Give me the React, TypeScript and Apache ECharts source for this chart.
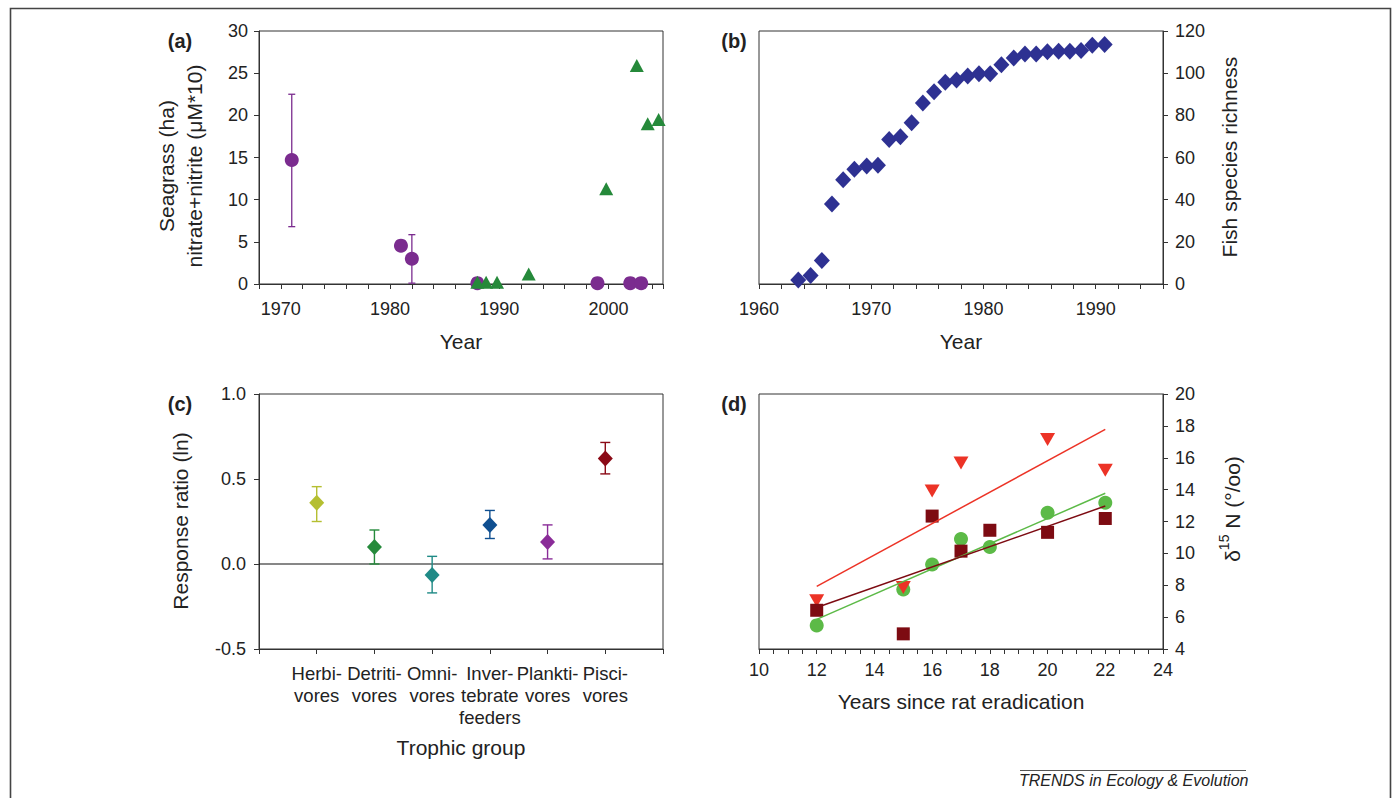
import React, { useEffect, useRef } from 'react';
import * as echarts from 'echarts';

const FONT = '"Liberation Sans", Arial, Helvetica, sans-serif';

// ---------- Panel (a) ----------
const seagrassYears = [1971, 1981, 1982, 1988, 1999, 2002, 2003];
const seagrassValues = [14.7, 4.55, 3.0, 0.1, 0.1, 0.1, 0.1];
const seagrassErrYears = [1971, 1981, 1982];
const seagrassErrLow = [6.8, 4.0, 0.1];
const seagrassErrHigh = [22.5, 5.1, 5.85];
const nitrateYears = [1988, 1988.8, 1989.8, 1992.7, 1999.8, 2002.6, 2003.6, 2004.6];
const nitrateValues = [0.2, 0.2, 0.2, 1.2, 11.3, 25.9, 19.0, 19.5];

// ---------- Panel (b) ----------
const richYears = [
  1963.5, 1964.6, 1965.6, 1966.5, 1967.5, 1968.5, 1969.6, 1970.6, 1971.6, 1972.6,
  1973.6, 1974.6, 1975.6, 1976.6, 1977.6, 1978.6, 1979.6, 1980.6, 1981.6, 1982.7,
  1983.7, 1984.7, 1985.7, 1986.7, 1987.7, 1988.7, 1989.7, 1990.8,
];
const richness = [
  1.9, 4.0, 11.2, 37.9, 49.4, 54.4, 56.0, 56.3, 68.5, 69.9,
  76.5, 85.9, 91.2, 95.7, 96.8, 98.7, 99.7, 99.7, 104.0, 107.2,
  109.1, 109.1, 110.1, 110.4, 110.4, 110.7, 113.3, 113.6,
];

// ---------- Panel (c) ----------
const groups = ['Herbi-\nvores', 'Detriti-\nvores', 'Omni-\nvores', 'Inver-\ntebrate\nfeeders', 'Plankti-\nvores', 'Pisci-\nvores'];
const response = [0.36, 0.10, -0.065, 0.23, 0.13, 0.62];
const responseLow = [0.25, 0.0, -0.17, 0.15, 0.03, 0.53];
const responseHigh = [0.455, 0.20, 0.045, 0.315, 0.23, 0.715];
const groupColors = ['#b5bf31', '#258a3b', '#1f8a86', '#0f4f90', '#8a2c98', '#8b0a16'];

// ---------- Panel (d) ----------
const ratX = [12, 15, 16, 17, 18, 20, 22];
const greenCircles = [5.48, 7.74, 9.30, 10.90, 10.40, 12.55, 13.18];
const darkSquares = [6.43, 4.95, 12.34, 10.14, 11.45, 11.32, 12.19];
const triX = [12, 15, 16, 17, 20, 22];
const redTriangles = [7.02, 7.86, 13.92, 15.67, 17.15, 15.21];
const trendX = [12, 22];
const redTrend = [7.93, 17.78];
const greenTrend = [5.86, 13.77];
const darkTrend = [6.60, 12.97];

const PURPLE = '#7b2c8f';
const GREEN_A = '#25893a';
const NAVY = '#2e3192';
const RED = '#ec3326';
const DARK_RED = '#7d0b12';
const GREEN_D = '#5cba47';
const INK = '#222';

function errorBarRender(colors: string[] | string, cap: number, lw: number) {
  return (params: any, api: any) => {
    const x = api.value(0);
    const lo = api.value(1);
    const hi = api.value(2);
    const a = api.coord([x, lo]);
    const b = api.coord([x, hi]);
    const color = Array.isArray(colors) ? colors[params.dataIndex] : colors;
    const style = { stroke: color, lineWidth: lw, fill: 'none' };
    const h = cap / 2;
    return {
      type: 'group',
      children: [
        { type: 'line', shape: { x1: a[0], y1: a[1], x2: b[0], y2: b[1] }, style },
        { type: 'line', shape: { x1: a[0] - h, y1: a[1], x2: a[0] + h, y2: a[1] }, style },
        { type: 'line', shape: { x1: b[0] - h, y1: b[1], x2: b[0] + h, y2: b[1] }, style },
      ],
    };
  };
}

const axisBase = (extra: any) => ({
  type: 'value',
  axisLine: { show: true, onZero: false, lineStyle: { color: '#333', width: 1 } },
  axisTick: { show: true, inside: false, length: 5, lineStyle: { color: '#333', width: 1 } },
  splitLine: { show: false },
  ...extra,
  axisLabel: { color: INK, fontFamily: FONT, fontSize: 18, ...(extra.axisLabel || {}) },
});

const gridBase = { show: true, borderColor: '#333', borderWidth: 1, backgroundColor: 'transparent', containLabel: false };

const txt = (text: string, x: number, y: number, opts: any = {}) => ({
  type: 'text',
  x,
  y,
  rotation: opts.rotation || 0,
  style: {
    text,
    fill: INK,
    font: `${opts.weight || 'normal'} ${opts.size || 21}px ${FONT}`,
    textAlign: opts.align || 'center',
    textVerticalAlign: 'middle',
    ...(opts.style || {}),
  },
});

function buildOption(): any {
  return {
    animation: false,
    backgroundColor: '#fff',
    grid: [
      { ...gridBase, left: 259, top: 31, width: 404, height: 253 },
      { ...gridBase, left: 759, top: 31, width: 404, height: 253 },
      { ...gridBase, left: 259, top: 394, width: 404, height: 255 },
      { ...gridBase, left: 759, top: 394, width: 404, height: 255 },
    ],
    xAxis: [
      axisBase({
        gridIndex: 0, min: 1968, max: 2005, interval: 2,
        axisLabel: { margin: 16, formatter: (v: number) => (v % 10 === 0 ? String(v) : '') },
      }),
      axisBase({
        gridIndex: 1, min: 1960, max: 1996, interval: 2,
        axisLabel: { margin: 16, formatter: (v: number) => (v % 10 === 0 ? String(v) : '') },
      }),
      axisBase({
        gridIndex: 2, min: 0, max: 7, interval: 1,
        axisLabel: {
          margin: 13, fontSize: 18.5, lineHeight: 22, align: 'center',
          formatter: (v: number) => (v >= 1 && v <= 6 ? groups[v - 1] : ''),
        },
      }),
      axisBase({
        gridIndex: 3, min: 10, max: 24, interval: 0.5,
        axisLabel: { margin: 12, formatter: (v: number) => (Math.abs(v % 2) < 1e-9 ? String(v) : '') },
      }),
    ],
    yAxis: [
      axisBase({ gridIndex: 0, min: 0, max: 30, interval: 5, axisLabel: { margin: 11 } }),
      axisBase({ gridIndex: 1, position: 'right', min: 0, max: 120, interval: 20, axisLabel: { margin: 12 } }),
      axisBase({
        gridIndex: 2, min: -0.5, max: 1.0, interval: 0.5,
        axisLabel: { margin: 13, formatter: (v: number) => v.toFixed(1) },
      }),
      axisBase({ gridIndex: 3, position: 'right', min: 4, max: 20, interval: 2, axisLabel: { margin: 12 } }),
    ],
    series: [
      // (a)
      {
        type: 'custom', xAxisIndex: 0, yAxisIndex: 0, silent: true, z: 1,
        renderItem: errorBarRender(PURPLE, 7, 1.3),
        encode: { x: 0, y: [1, 2] },
        data: seagrassErrYears.map((yr, i) => [yr, seagrassErrLow[i], seagrassErrHigh[i]]),
      },
      {
        type: 'scatter', xAxisIndex: 0, yAxisIndex: 0, symbol: 'circle', symbolSize: 14, z: 3,
        itemStyle: { color: PURPLE, opacity: 1 },
        data: seagrassYears.map((yr, i) => [yr, seagrassValues[i]]),
      },
      {
        type: 'scatter', xAxisIndex: 0, yAxisIndex: 0, symbol: 'triangle', symbolSize: [14, 13], z: 4,
        itemStyle: { color: GREEN_A, opacity: 1 },
        data: nitrateYears.map((yr, i) => [yr, nitrateValues[i]]),
      },
      // (b)
      {
        type: 'scatter', xAxisIndex: 1, yAxisIndex: 1, symbol: 'diamond', symbolSize: [16, 17],
        itemStyle: { color: NAVY, opacity: 1 },
        data: richYears.map((yr, i) => [yr, richness[i]]),
      },
      // (c)
      {
        type: 'line', xAxisIndex: 2, yAxisIndex: 2, symbol: 'none', silent: true, z: 1,
        lineStyle: { color: '#111', width: 1.2 },
        data: [[0, 0], [7, 0]],
      },
      {
        type: 'custom', xAxisIndex: 2, yAxisIndex: 2, silent: true, z: 2,
        renderItem: errorBarRender(groupColors, 10, 1.4),
        encode: { x: 0, y: [1, 2] },
        data: response.map((_, i) => [i + 1, responseLow[i], responseHigh[i]]),
      },
      {
        type: 'scatter', xAxisIndex: 2, yAxisIndex: 2, symbol: 'diamond', symbolSize: [15, 16], z: 3,
        data: response.map((v, i) => ({ value: [i + 1, v], itemStyle: { color: groupColors[i], opacity: 1 } })),
      },
      // (d)
      {
        type: 'scatter', xAxisIndex: 3, yAxisIndex: 3, symbol: 'circle', symbolSize: 14, z: 2,
        itemStyle: { color: GREEN_D, opacity: 1 },
        data: ratX.map((x, i) => [x, greenCircles[i]]),
      },
      {
        type: 'scatter', xAxisIndex: 3, yAxisIndex: 3, symbol: 'triangle', symbolRotate: 180, symbolSize: [15, 13], z: 3,
        itemStyle: { color: RED, opacity: 1 },
        data: triX.map((x, i) => [x, redTriangles[i]]),
      },
      {
        type: 'scatter', xAxisIndex: 3, yAxisIndex: 3, symbol: 'rect', symbolSize: 13, z: 4,
        itemStyle: { color: DARK_RED, opacity: 1 },
        data: ratX.map((x, i) => [x, darkSquares[i]]),
      },
      {
        type: 'line', xAxisIndex: 3, yAxisIndex: 3, symbol: 'none', silent: true, z: 5,
        lineStyle: { color: RED, width: 1.5 },
        data: trendX.map((x, i) => [x, redTrend[i]]),
      },
      {
        type: 'line', xAxisIndex: 3, yAxisIndex: 3, symbol: 'none', silent: true, z: 5,
        lineStyle: { color: GREEN_D, width: 1.5 },
        data: trendX.map((x, i) => [x, greenTrend[i]]),
      },
      {
        type: 'line', xAxisIndex: 3, yAxisIndex: 3, symbol: 'none', silent: true, z: 5,
        lineStyle: { color: DARK_RED, width: 1.5 },
        data: trendX.map((x, i) => [x, darkTrend[i]]),
      },
    ],
    graphic: [
      {
        type: 'rect', silent: true,
        shape: { x: 10.5, y: 8.5, width: 1380, height: 830 },
        style: { fill: 'none', stroke: '#444', lineWidth: 1.6 },
      },
      txt('(a)', 180, 41, { weight: 'bold', size: 20 }),
      txt('(b)', 734, 41, { weight: 'bold', size: 20 }),
      txt('(c)', 180, 404, { weight: 'bold', size: 20 }),
      txt('(d)', 734, 404, { weight: 'bold', size: 20 }),
      txt('Year', 461, 341),
      txt('Year', 961, 341),
      txt('Trophic group', 461, 747),
      txt('Years since rat eradication', 961, 701),
      txt('Seagrass (ha)', 166, 166, { rotation: Math.PI / 2 }),
      txt('nitrate+nitrite (\u03bcM*10)', 194, 166, { rotation: Math.PI / 2 }),
      txt('Response ratio (ln)', 180, 521, { rotation: Math.PI / 2 }),
      txt('Fish species richness', 1229, 157, { rotation: Math.PI / 2 }),
      {
        type: 'text',
        x: 1230,
        y: 509,
        rotation: Math.PI / 2,
        style: {
          text: '{a|\u03b4}{s|15}{a| N (\u00b0/oo)}',
          textAlign: 'center',
          textVerticalAlign: 'middle',
          fill: INK,
          font: `21px ${FONT}`,
          rich: {
            a: { fontFamily: FONT, fontSize: 21, fill: INK, color: INK, verticalAlign: 'bottom', lineHeight: 26 },
            s: { fontFamily: FONT, fontSize: 14, fill: INK, color: INK, verticalAlign: 'top', lineHeight: 26 },
          },
        },
      },
      {
        type: 'line', silent: true,
        shape: { x1: 1020, y1: 770.5, x2: 1246, y2: 770.5 },
        style: { stroke: '#555', lineWidth: 1 },
      },
      txt('TRENDS in Ecology & Evolution', 1019, 780, {
        align: 'left', size: 16,
        style: { font: `italic 16px ${FONT}` },
      }),
    ],
  };
}

export default function App() {
  const ref = useRef<HTMLDivElement>(null);
  useEffect(() => {
    if (!ref.current) return;
    const chart = echarts.init(ref.current, null, { renderer: 'svg' });
    chart.setOption(buildOption());
    return () => chart.dispose();
  }, []);
  return (
    <div
      ref={ref}
      style={{ position: 'fixed', left: 0, top: 0, width: 1394, height: 798, background: '#fff' }}
    />
  );
}
